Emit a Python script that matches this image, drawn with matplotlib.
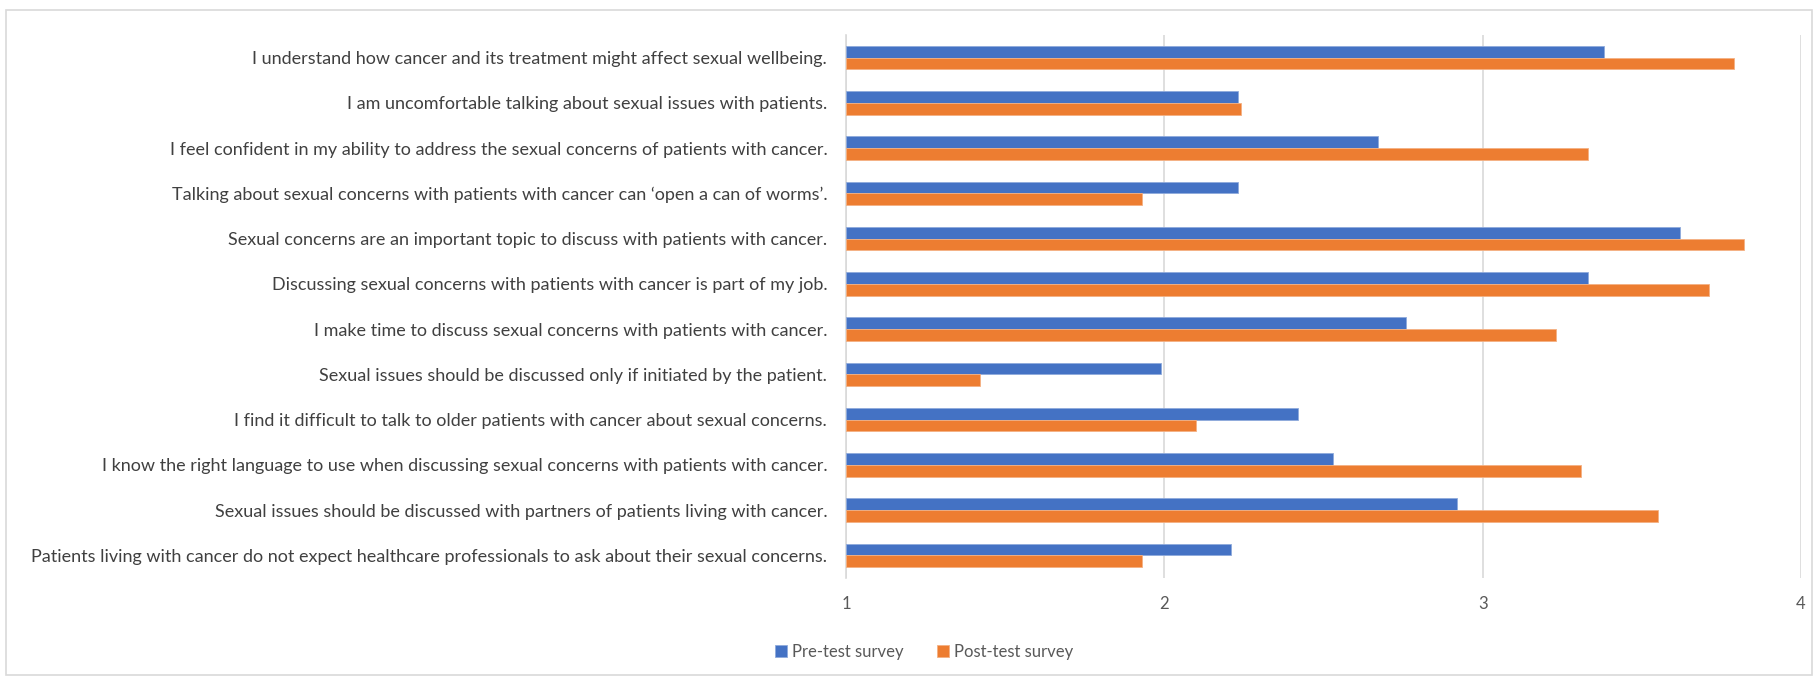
import numpy as np
import matplotlib.pyplot as plt
from matplotlib.patches import Rectangle

# survey statements, top to bottom
statements = [
    "I understand how cancer and its treatment might affect sexual wellbeing.",
    "I am uncomfortable talking about sexual issues with patients.",
    "I feel confident in my ability to address the sexual concerns of patients with cancer.",
    "Talking about sexual concerns with patients with cancer can \u2018open a can of worms\u2019.",
    "Sexual concerns are an important topic to discuss with patients with cancer.",
    "Discussing sexual concerns with patients with cancer is part of my job.",
    "I make time to discuss sexual concerns with patients with cancer.",
    "Sexual issues should be discussed only if initiated by the patient.",
    "I find it difficult to talk to older patients with cancer about sexual concerns.",
    "I know the right language to use when discussing sexual concerns with patients with cancer.",
    "Sexual issues should be discussed with partners of patients living with cancer.",
    "Patients living with cancer do not expect healthcare professionals to ask about their sexual concerns.",
]

pre_test = [3.38, 2.23, 2.67, 2.23, 3.62, 3.33, 2.76, 1.99, 2.42, 2.53, 2.92, 2.21]
post_test = [3.79, 2.24, 3.33, 1.93, 3.82, 3.71, 3.23, 1.42, 2.10, 3.31, 3.55, 1.93]

x_ticks = [1, 2, 3, 4]

blue = "#4472C4"
orange = "#ED7D31"
grid_col = "#D9D9D9"
text_col = "#404040"
tick_col = "#595959"

plt.rcParams["font.family"] = ["Lato", "DejaVu Sans"]

fig = plt.figure(figsize=(18.16, 6.79), dpi=100)
ax = fig.add_axes([846 / 1816, 1 - 578 / 679, (1801 - 846) / 1816, (578 - 35) / 679])

y = np.arange(len(statements))
h = 0.26
base = 1
ax.barh(y - h / 2, np.array(pre_test) - base, height=h, left=base, color=blue,
        edgecolor="#8FAADC", linewidth=0.6, label="Pre-test survey", zorder=3)
ax.barh(y + h / 2, np.array(post_test) - base, height=h, left=base, color=orange,
        edgecolor="#F4B183", linewidth=0.6, label="Post-test survey", zorder=3)

ax.set_xlim(1, 4)
ax.set_ylim(len(statements) - 0.5, -0.5)
ax.set_xticks(x_ticks)
ax.set_xticklabels([str(t) for t in x_ticks])
ax.set_yticks(y)
ax.set_yticklabels(statements)

ax.xaxis.grid(True, color=grid_col, linewidth=1.2, zorder=0)
ax.set_axisbelow(True)
for s in ["top", "right", "bottom"]:
    ax.spines[s].set_visible(False)
ax.spines["left"].set_color(grid_col)
ax.spines["left"].set_linewidth(1.2)

ax.tick_params(axis="y", length=0, pad=13.5, labelsize=13, labelcolor=text_col)
ax.tick_params(axis="x", length=0, pad=13, labelsize=12, labelcolor=tick_col)

fig.legend(loc="center", bbox_to_anchor=(924 / 1816, 1 - 652 / 679), ncol=2,
           frameon=False, fontsize=12, labelcolor=tick_col, handlelength=0.7,
           handleheight=0.7, handletextpad=0.3, columnspacing=2.0)

# chart border
fig.patches.append(Rectangle((6 / 1816, 4 / 679), 1806 / 1816, 665 / 679,
                             transform=fig.transFigure, fill=False,
                             edgecolor=grid_col, linewidth=1.2))

fig.savefig("out.png", dpi=100)
